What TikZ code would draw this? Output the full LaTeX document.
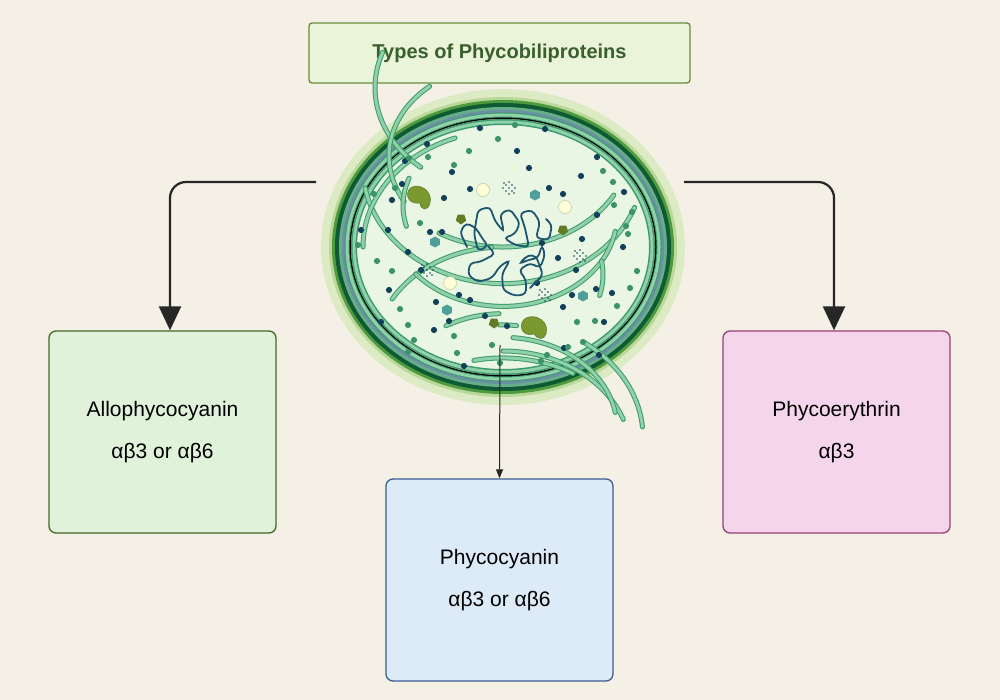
\documentclass[tikz,border=0pt]{standalone}
\usepackage{fontspec}
\setmainfont{Liberation Sans}
\usetikzlibrary{arrows.meta}
\definecolor{bg}{HTML}{F4F0E6}
\definecolor{tfill}{HTML}{EAF4D8}
\definecolor{tborder}{HTML}{6A8C3A}
\definecolor{ttext}{HTML}{3A5F2E}
\definecolor{gfill}{HTML}{E0F2DA}
\definecolor{gborder}{HTML}{3F6B2A}
\definecolor{bfill}{HTML}{DDEAF7}
\definecolor{bborder}{HTML}{3A5F8F}
\definecolor{pfill}{HTML}{F5D5EC}
\definecolor{pborder}{HTML}{9C3F73}
\definecolor{halo}{HTML}{DCEBC4}
\definecolor{halo2}{HTML}{B9D89A}
\definecolor{darkg}{HTML}{0E5A32}
\definecolor{midg}{HTML}{4E9A3E}
\definecolor{bluer}{HTML}{6A8FA3}
\definecolor{cyto}{HTML}{EAF6E4}
\definecolor{thy}{HTML}{3E9A6C}
\definecolor{thyin}{HTML}{8FD1A9}
\definecolor{dotd}{HTML}{123F5A}
\definecolor{dotg}{HTML}{3A9468}
\definecolor{dna}{HTML}{1E5670}
\definecolor{olive}{HTML}{7A9A30}
\definecolor{teal}{HTML}{4E9E9A}
\tikzset{
  box/.style={draw, line width=1.3pt, rounded corners=7pt, minimum width=227pt, minimum height=202pt, align=center, font=\fontsize{21}{42}\selectfont},
  thy/.style={draw=thy, line width=1pt, double=thyin, double distance=3pt, line cap=round},
  bigarrow/.style={draw=black!85, line width=2.2pt, rounded corners=16pt, -{Triangle[length=24pt,width=22pt]}},
}
\begin{document}
\begin{tikzpicture}[x=1pt,y=-1pt]
\fill[bg] (0,0) rectangle (1000,700);
\useasboundingbox (0,0) rectangle (1000,700);
% title
\node[draw=tborder, fill=tfill, line width=1.3pt, rounded corners=3pt, minimum width=381pt, minimum height=60pt, font=\fontsize{20}{24}\bfseries, text=ttext] (title) at (499.5,53) {Types of Phycobiliproteins};
% cell
\coordinate (C) at (503,247);
\fill[halo] (C) ellipse [x radius=182, y radius=158];
\fill[halo2] (C) ellipse [x radius=174, y radius=150];
\fill[midg] (C) ellipse [x radius=171, y radius=147];
\fill[darkg] (C) ellipse [x radius=168, y radius=144];
\fill[thy!80] (C) ellipse [x radius=164, y radius=140];
\fill[bluer] (C) ellipse [x radius=161, y radius=137];
\fill[thy] (C) ellipse [x radius=156, y radius=132];
\fill[cyto] (C) ellipse [x radius=152, y radius=128];
\draw[thy, line width=1.5pt] (C) ellipse [x radius=149, y radius=125];
% thylakoids
\foreach \a/\b/\rx/\ry in {20/170/140/116, 180/250/140/116, 258/300/140/116, 305/355/140/116,
  30/120/128/104, 130/200/128/104, 210/265/128/104, 270/340/128/104,
  10/140/114/91, 150/230/114/91, 240/268/114/91, 275/350/114/91,
  165/200/100/80, 350/375/100/80, 268/278/98/78}
  \draw[thy] (C) ++(\a:\rx pt and \ry pt) arc[start angle=\a, end angle=\b, x radius=\rx, y radius=\ry];
% dots
\foreach \x/\y in {480/128, 545/129, 427/144, 405/161, 402/184, 517/151, 452/172, 529/168, 597/157, 581/176, 624/192, 597/215, 623/247, 582/239, 563/307, 604/322, 612/293, 558/258, 542/243, 572/295, 485/316, 507/326, 449/321, 436/302, 421/270, 442/232, 408/252, 389/290, 388/230, 361/230, 392/200, 470/300, 459/295, 596/289, 576/270, 563/194, 549/188, 537/283, 470/189, 444/198, 599/355, 564/348, 464/366, 430/232, 381/322, 434/330}
  \fill[dotd] (\x,\y) circle (3.1);
\foreach \x/\y in {515/125, 498/139, 469/151, 428/157, 409/158, 454/165, 374/194, 395/188, 358/245, 377/261, 392/271, 400/309, 408/325, 414/340, 408/352, 457/353, 454/336, 492/345, 500/363, 568/347, 547/355, 583/342, 577/322, 595/321, 617/306, 637/271, 630/288, 628/234, 632/212, 614/205, 613/182, 626/226, 603/171, 541/361, 420/223}
  \fill[dotg] (\x,\y) circle (3.1);
% nucleoid
\draw[dna, line width=1.8pt, line cap=round, rounded corners=4pt]
 (467,247) -- (460,232) -- (466,223) -- (476,228) -- (482,238) -- (488,246) -- (478,251) -- (474,234)
 -- (478,210) -- (490,207) -- (495,221) -- (504,232) -- (500,214) -- (510,209) -- (520,223) -- (515,234) -- (504,238)
 -- (515,245) -- (529,247) -- (525,228) -- (520,213) -- (532,210) -- (540,222) -- (536,238) -- (549,240) -- (552,225) -- (546,219);
\draw[dna, line width=1.8pt, line cap=round, rounded corners=4pt]
 (488,246) -- (495,254) -- (480,262) -- (470,263) -- (468,275) -- (478,282) -- (492,278) -- (500,266) -- (510,260)
 -- (502,274) -- (503,290) -- (515,296) -- (526,294) -- (526,280) -- (519,270) -- (530,263) -- (540,268) -- (545,255)
 -- (542,245) -- (538,258) -- (528,260) -- (519,264) -- (528,255) -- (536,256) -- (543,275) -- (530,288);
% inclusions
\fill[olive, draw=olive!70!black] (420,203) .. controls (405,205) and (405,190) .. (412,187) .. controls (422,183) and (433,193) .. (430,203) .. controls (428,212) and (420,210) .. (420,203);
\fill[olive, draw=olive!70!black] (534,334) .. controls (520,338) and (518,322) .. (526,318) .. controls (536,313) and (550,322) .. (546,334) .. controls (544,340) and (538,340) .. (534,334);
\foreach \x/\y in {483/190, 565/207, 450/283}
  \draw[fill=yellow!15!white, draw=olive!60] (\x,\y) circle (6.5);
\foreach \x/\y in {535/195, 435/242, 447/310, 583/296}
  \fill[teal] (\x,\y) +(90:5.5) -- +(150:5.5) -- +(210:5.5) -- +(270:5.5) -- +(330:5.5) -- +(30:5.5) -- cycle;
\foreach \x/\y in {461/219, 563/230, 494/323}
  \fill[olive!80!black] (\x,\y) +(90:5.5) -- +(162:5.5) -- +(234:5.5) -- +(306:5.5) -- +(18:5.5) -- cycle;
\foreach \x/\y in {509/188, 427/270, 580/256, 545/295}
  \foreach \dx/\dy in {0/0, 3/-3, -3/3, 3/3, -3/-3, 6/0, -6/0, 0/6, 0/-6, 5/5, -5/-5}
    \fill[dotd] (\x+\dx,\y+\dy) circle (0.9);
% boxes
\node[box, draw=gborder, fill=gfill] (allo) at (162.5,432) {Allophycocyanin\\αβ3 or αβ6};
\node[box, draw=bborder, fill=bfill] (pc) at (499.5,580) {Phycocyanin\\αβ3 or αβ6};
\node[box, draw=pborder, fill=pfill] (pe) at (836.5,432) {Phycoerythrin\\αβ3};
% connectors
\coordinate (cl) at (316,182);
\coordinate (cr) at (684,182);
\coordinate (cb) at (500,345);
\draw[bigarrow] (cl) -- (170,182) -- (allo.north -| 170,0);
\draw[bigarrow] (cr) -- (834,182) -- (pe.north -| 834,0);
\draw[black!85, line width=1pt, -{Triangle[length=9pt,width=7pt]}] (cb) -- (pc.north);
\end{tikzpicture}
\end{document}
